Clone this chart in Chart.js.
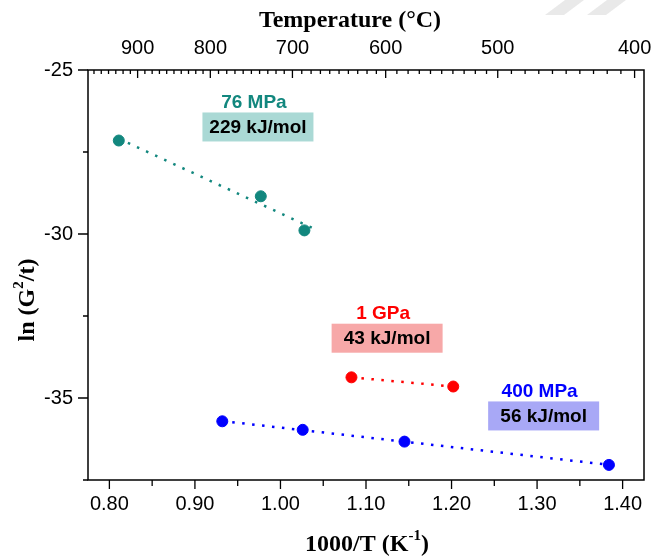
<!DOCTYPE html>
<html>
<head>
<meta charset="utf-8">
<title>ln(G²/t) vs 1000/T</title>
<script src="https://cdn.jsdelivr.net/npm/chart.js@4.4.1/dist/chart.umd.min.js"></script>
<style>
  html, body { margin: 0; padding: 0; background: #fff; }
  #wrap { width: 653px; height: 557px; }
</style>
</head>
<body>
<div id="wrap"><canvas id="arrhenius" width="653" height="557"></canvas></div>
<script>
// values: x = 1000/T (K^-1), y = ln(G^2/t)
const invT76MPa = [0.811, 0.977, 1.028];
const lnG76MPa = [-27.15, -28.85, -29.89];
const invT1GPa = [1.083, 1.202];
const lnG1GPa = [-34.37, -34.65];
const invT400MPa = [0.932, 1.026, 1.145, 1.384];
const lnG400MPa = [-35.71, -35.97, -36.33, -37.04];

// where the 76 MPa fit line stops (a bit past its last point)
const fitEnd76MPa = 1.037;

// axis ticks
const xTicks = [0.8, 0.9, 1.0, 1.1, 1.2, 1.3, 1.4];
const yTicks = [-35, -30, -25];
const tempLabels = [900, 800, 700, 600, 500, 400];
const tempTickPos = [0.833, 0.918, 1.014, 1.123, 1.254, 1.414];

const TEAL = "#12877e";
const RED = "#ff0000";
const BLUE = "#0000ff";
const SANS = "'Liberation Sans', Arial, sans-serif";
const SERIF = "'Liberation Serif', 'Times New Roman', serif";

// least squares line through a series, drawn over its x span
function fitLine(xs, ys, xEnd) {
  const n = xs.length;
  const mx = xs.reduce((s, v) => s + v, 0) / n;
  const my = ys.reduce((s, v) => s + v, 0) / n;
  let sxy = 0, sxx = 0;
  xs.forEach((x, i) => {
    sxy += (x - mx) * (ys[i] - my);
    sxx += (x - mx) * (x - mx);
  });
  const k = sxy / sxx;
  const x0 = Math.min(...xs);
  const x1 = xEnd !== undefined ? xEnd : Math.max(...xs);
  return [
    { x: x0, y: my + k * (x0 - mx) },
    { x: x1, y: my + k * (x1 - mx) },
  ];
}

const toPoints = (xs, ys) => xs.map((x, i) => ({ x: x, y: ys[i] }));

function pointSet(xs, ys, color) {
  return {
    type: "scatter",
    data: toPoints(xs, ys),
    backgroundColor: color,
    borderColor: color,
    pointRadius: 5.5,
    pointHoverRadius: 5.5,
    order: 1,
  };
}

function fitSet(xs, ys, color, xEnd) {
  return {
    type: "line",
    data: fitLine(xs, ys, xEnd),
    borderColor: color,
    borderWidth: 2.5,
    borderDash: [2.5, 7.5],
    pointRadius: 0,
    fill: false,
    order: 2,
  };
}

// text labels with the activation energies
const notes = [
  { x: 0.969, y: -25.99, title: "76 MPa", energy: "229 kJ/mol", color: TEAL, fill: "#aad9d5" },
  { x: 1.120, y: -32.43, title: "1 GPa", energy: "43 kJ/mol", color: RED, fill: "#f7a8a8" },
  { x: 1.303, y: -34.80, title: "400 MPa", energy: "56 kJ/mol", color: BLUE, fill: "#a8a8f6" },
];

// draws text pieces in a row, superscripts smaller and raised
function drawRich(ctx, parts, cx, cy, size) {
  const big = "bold " + size + "px " + SERIF;
  const small = "bold " + Math.round(size * 0.62) + "px " + SERIF;
  let total = 0;
  parts.forEach((p) => {
    ctx.font = p.sup ? small : big;
    total += ctx.measureText(p.t).width;
  });
  let x = cx - total / 2;
  ctx.textAlign = "left";
  ctx.textBaseline = "middle";
  parts.forEach((p) => {
    ctx.font = p.sup ? small : big;
    ctx.fillText(p.t, x, p.sup ? cy - size * 0.38 : cy);
    x += ctx.measureText(p.t).width;
  });
}

const decorations = {
  id: "decorations",
  beforeDraw(chart) {
    const ctx = chart.ctx;
    ctx.save();
    ctx.fillStyle = "#e9e9e9";
    [[565, 584, 564, 545], [607, 626, 606, 587]].forEach((s) => {
      ctx.beginPath();
      ctx.moveTo(s[0], 0);
      ctx.lineTo(s[1], 0);
      ctx.lineTo(s[2], 15);
      ctx.lineTo(s[3], 15);
      ctx.closePath();
      ctx.fill();
    });
    ctx.restore();
  },
  afterDatasetsDraw(chart) {
    const ctx = chart.ctx;
    const xs = chart.scales.x;
    const ys = chart.scales.y;
    ctx.save();
    notes.forEach((n) => {
      const px = xs.getPixelForValue(n.x);
      const py = ys.getPixelForValue(n.y);
      ctx.fillStyle = n.fill;
      ctx.fillRect(px + 4 - 55.5, py + 24.5 - 14.5, 111, 29);
      ctx.textAlign = "center";
      ctx.textBaseline = "middle";
      ctx.font = "bold 19px " + SANS;
      ctx.fillStyle = n.color;
      ctx.fillText(n.title, px, py);
      ctx.fillStyle = "#000";
      ctx.fillText(n.energy, px + 4, py + 25);
    });
    ctx.restore();
  },
  afterDraw(chart) {
    const ctx = chart.ctx;
    const a = chart.chartArea;
    const xs = chart.scales.x;
    const ys = chart.scales.y;
    ctx.save();
    ctx.strokeStyle = "#000";
    ctx.lineWidth = 1.5;
    ctx.strokeRect(a.left, a.top, a.right - a.left, a.bottom - a.top);

    ctx.lineWidth = 1.3;
    ctx.beginPath();
    // bottom axis, outward
    xTicks.forEach((v, i) => {
      const p = xs.getPixelForValue(v);
      ctx.moveTo(p, a.bottom);
      ctx.lineTo(p, a.bottom + 9);
      const m = xs.getPixelForValue(v + 0.05);
      if (i < xTicks.length - 1) {
        ctx.moveTo(m, a.bottom);
        ctx.lineTo(m, a.bottom + 6);
      }
    });
    // left axis, outward
    yTicks.forEach((v) => {
      const p = ys.getPixelForValue(v);
      ctx.moveTo(a.left, p);
      ctx.lineTo(a.left - 10, p);
      const m = ys.getPixelForValue(v - 2.5);
      ctx.moveTo(a.left, m);
      ctx.lineTo(a.left - 5, m);
    });
    // top axis (temperature), inward, minor every 10 °C
    const minors = [];
    for (let i = 0; i < tempTickPos.length - 1; i++) {
      const step = (tempTickPos[i + 1] - tempTickPos[i]) / 10;
      for (let j = 1; j < 10; j++) minors.push(tempTickPos[i] + j * step);
    }
    const firstStep = (tempTickPos[1] - tempTickPos[0]) / 10;
    for (let v = tempTickPos[0] - firstStep; v > xs.min; v -= firstStep) minors.push(v);
    tempTickPos.forEach((v) => {
      const p = xs.getPixelForValue(v);
      ctx.moveTo(p, a.top);
      ctx.lineTo(p, a.top + 8);
    });
    minors.forEach((v) => {
      const p = xs.getPixelForValue(v);
      ctx.moveTo(p, a.top);
      ctx.lineTo(p, a.top + 4);
    });
    ctx.stroke();

    // axis titles
    ctx.fillStyle = "#000";
    drawRich(ctx, [{ t: "Temperature (°C)" }], 350, 21, 24);
    drawRich(ctx, [{ t: "1000/T (K" }, { t: "-1", sup: true }, { t: ")" }], 367, 545, 24);
    ctx.translate(28, 300);
    ctx.rotate(-Math.PI / 2);
    drawRich(ctx, [{ t: "ln (G" }, { t: "2", sup: true }, { t: "/t)" }], 0, 0, 24);
    ctx.restore();
  },
};

const tickFont = { family: SANS, size: 20 };
const noGrid = { display: false, drawTicks: false };

new Chart(document.getElementById("arrhenius"), {
  type: "scatter",
  data: {
    datasets: [
      fitSet(invT76MPa, lnG76MPa, TEAL, fitEnd76MPa),
      fitSet(invT1GPa, lnG1GPa, RED),
      fitSet(invT400MPa, lnG400MPa, BLUE),
      pointSet(invT76MPa, lnG76MPa, TEAL),
      pointSet(invT1GPa, lnG1GPa, RED),
      pointSet(invT400MPa, lnG400MPa, BLUE),
    ],
  },
  options: {
    responsive: false,
    animation: false,
    layout: { padding: { left: 0, right: 9, top: 0, bottom: 0 } },
    plugins: {
      legend: { display: false },
      tooltip: { enabled: false },
    },
    scales: {
      x: {
        type: "linear",
        position: "bottom",
        min: 0.775,
        max: 1.425,
        grid: noGrid,
        border: { display: false },
        afterBuildTicks: (s) => { s.ticks = xTicks.map((v) => ({ value: v })); },
        afterFit: (s) => { s.height = 77; s.paddingLeft = 0; s.paddingRight = 0; },
        ticks: {
          color: "#000",
          font: tickFont,
          padding: 12,
          autoSkip: false,
          maxRotation: 0,
          callback: (v) => Number(v).toFixed(2),
        },
      },
      x2: {
        type: "linear",
        position: "top",
        min: 0.775,
        max: 1.425,
        grid: noGrid,
        border: { display: false },
        afterBuildTicks: (s) => { s.ticks = tempTickPos.map((v) => ({ value: v })); },
        afterFit: (s) => { s.height = 70; s.paddingLeft = 0; s.paddingRight = 0; },
        ticks: {
          color: "#000",
          font: tickFont,
          padding: 10,
          autoSkip: false,
          maxRotation: 0,
          callback: (v, i) => String(tempLabels[i]),
        },
      },
      y: {
        type: "linear",
        min: -37.5,
        max: -25,
        grid: noGrid,
        border: { display: false },
        afterBuildTicks: (s) => { s.ticks = yTicks.map((v) => ({ value: v })); },
        afterFit: (s) => { s.width = 88; s.paddingTop = 0; s.paddingBottom = 0; },
        ticks: {
          color: "#000",
          font: tickFont,
          padding: 15,
          callback: (v) => String(v),
        },
      },
    },
  },
  plugins: [decorations],
});
</script>
</body>
</html>
